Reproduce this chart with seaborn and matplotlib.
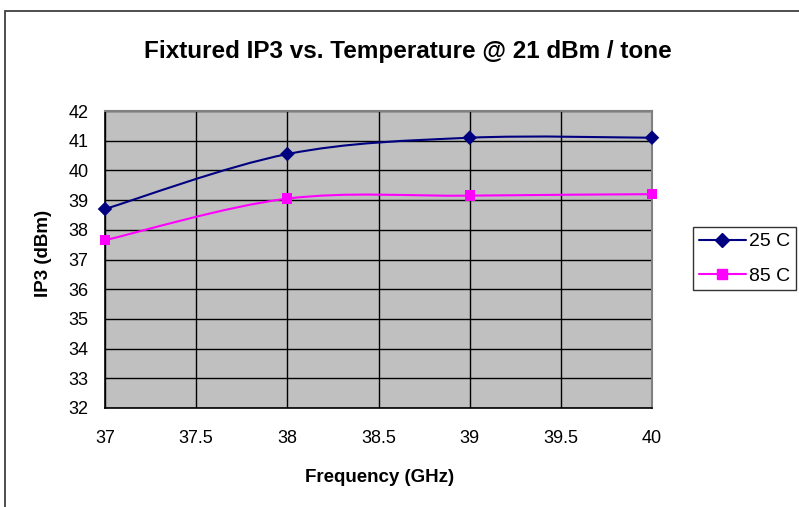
import matplotlib
matplotlib.use("Agg")
import matplotlib.pyplot as plt
from matplotlib.path import Path
from matplotlib.patches import PathPatch, Rectangle
from matplotlib.lines import Line2D
import numpy as np
import pandas as pd
import seaborn as sns

freq = [37, 38, 39, 40]
ip3_25c = [38.7, 40.55, 41.1, 41.1]
ip3_85c = [37.65, 39.05, 39.15, 39.2]
series_names = ["25 C", "85 C"]
colors = {"25 C": "#000080", "85 C": "#FF00FF"}
markers = {"25 C": "D", "85 C": "s"}

df = pd.DataFrame({
    "freq": freq * 2,
    "ip3": ip3_25c + ip3_85c,
    "series": [series_names[0]] * 4 + [series_names[1]] * 4,
})


def smooth_path(xs, ys):
    # Excel style smoothed line: cubic bezier through the points
    pts = np.column_stack([xs, ys]).astype(float)
    n = len(pts)
    verts = [pts[0]]
    codes = [Path.MOVETO]
    for i in range(n - 1):
        p_prev = pts[i - 1] if i > 0 else pts[i]
        p_next2 = pts[i + 2] if i + 2 < n else pts[i + 1]
        c1 = pts[i] + (pts[i + 1] - p_prev) / 6.0
        c2 = pts[i + 1] - (p_next2 - pts[i]) / 6.0
        verts += [c1, c2, pts[i + 1]]
        codes += [Path.CURVE4] * 3
    return Path(verts, codes)


sns.set_style("white")
plt.rcParams["font.family"] = ["Liberation Sans", "DejaVu Sans"]
plt.rcParams["text.color"] = "black"
plt.rcParams["xtick.color"] = "black"
plt.rcParams["ytick.color"] = "black"

W, H = 799, 507
fig = plt.figure(figsize=(W / 100, H / 100), dpi=100)
ax = fig.add_axes([105 / W, 1 - 408 / H, (652 - 105) / W, (408 - 111) / H])
ax.set_facecolor("#C0C0C0")

# outer chart frame (runs off the right and bottom edges)
fig.patches.append(Rectangle((5 / W, -0.1), 1.2, 1.1 - 11 / H, transform=fig.transFigure,
                             fill=False, edgecolor="#404040", linewidth=1.3))

for name, ys in zip(series_names, [ip3_25c, ip3_85c]):
    ax.add_patch(PathPatch(smooth_path(freq, ys), facecolor="none",
                           edgecolor=colors[name], linewidth=1.5, zorder=3))

sns.scatterplot(data=df, x="freq", y="ip3", hue="series", style="series",
                palette=colors, markers=markers, s=55, edgecolor="none",
                legend=False, ax=ax, zorder=4, clip_on=False)

ax.set_xlim(37, 40)
ax.set_ylim(32, 42)
ax.set_xticks(np.arange(37, 40.01, 0.5))
ax.set_xticklabels(["37", "37.5", "38", "38.5", "39", "39.5", "40"])
ax.set_yticks(range(32, 43))
ax.grid(True, color="black", linewidth=1.0)
ax.set_axisbelow(True)
ax.tick_params(axis="both", direction="out", length=5, width=1, color="black",
               labelcolor="black", labelsize=13)
ax.tick_params(axis="x", pad=11)
ax.tick_params(axis="y", pad=7)

for side in ["top", "right"]:
    ax.spines[side].set_color("#808080")
    ax.spines[side].set_linewidth(1.5)
for side in ["left", "bottom"]:
    ax.spines[side].set_color("black")
    ax.spines[side].set_linewidth(1.2)

ax.set_xlabel("")
ax.set_ylabel("")
fig.text(380 / W, 1 - 482 / H, "Frequency (GHz)", ha="center", va="baseline",
         fontsize=13.5, fontweight="bold", color="black")
fig.text(44 / W, 1 - 253 / H, "IP3 (dBm)", ha="center", va="center", rotation=90,
         fontsize=13.5, fontweight="bold", color="black")

fig.text(408 / W, 1 - 58 / H, "Fixtured IP3 vs. Temperature @ 21 dBm / tone",
         ha="center", va="baseline", fontsize=17.5, fontweight="bold", color="black")

handles = [Line2D([], [], color=colors[n], marker=markers[n], markersize=7,
                  linewidth=1.5, markeredgecolor=colors[n]) for n in series_names]
leg = fig.legend(handles, series_names, loc="upper left",
                 bbox_to_anchor=(693 / W, 1 - 227 / H), frameon=True, fancybox=False,
                 fontsize=14, handlelength=2.4, borderpad=0.3, labelspacing=0.85,
                 handletextpad=0.2, borderaxespad=0)
for t in leg.get_texts():
    t.set_color("black")
leg.get_frame().set_edgecolor("black")
leg.get_frame().set_linewidth(1.0)

fig.savefig("out.png", dpi=100)
